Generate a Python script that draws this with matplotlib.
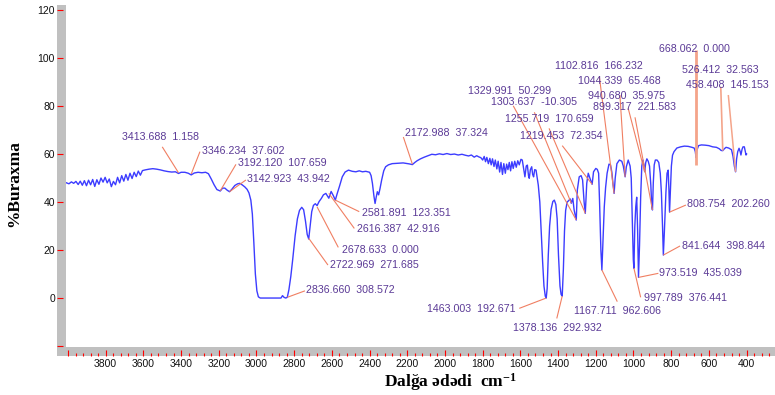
import matplotlib
matplotlib.use("Agg")
import matplotlib.pyplot as plt
from matplotlib.patches import Rectangle
from matplotlib.ticker import MultipleLocator

plt.rcParams['font.family'] = ['Liberation Sans', 'DejaVu Sans']
plt.rcParams['mathtext.fontset'] = 'custom'
plt.rcParams['mathtext.rm'] = 'Liberation Serif:bold'
plt.rcParams['mathtext.default'] = 'rm'

# IR spectrum (wavenumber cm-1, %T)
spec_wn = [4008, 3995, 3982, 3970, 3958, 3946, 3935, 3924, 3913, 3902, 3891, 3880, 3869, 3858,
           3847, 3836, 3825, 3814, 3803, 3792, 3781, 3770, 3759, 3748, 3737, 3726, 3715, 3704,
           3693, 3682, 3671, 3660, 3649, 3638, 3627, 3616, 3605, 3590, 3570, 3550, 3530, 3510,
           3490, 3470, 3450, 3430, 3413.688, 3400, 3380, 3362, 3346.234, 3330, 3310, 3290, 3270,
           3255, 3240, 3225, 3210, 3192.12, 3180, 3168, 3155, 3142.923, 3130, 3115, 3100, 3088,
           3075, 3062, 3050, 3040, 3030, 3022, 3014, 3006, 2998, 2990, 2980, 2870, 2862, 2854,
           2845, 2836.66, 2828, 2818, 2808, 2795, 2783, 2772, 2760, 2750, 2740, 2731, 2722.969,
           2715, 2707, 2698, 2688, 2678.633, 2668, 2656, 2645, 2632, 2616.387, 2604, 2592,
           2581.891, 2572, 2560, 2545, 2530, 2512, 2492, 2473, 2455, 2438, 2420, 2400, 2392,
           2385, 2377, 2371, 2365, 2359, 2352, 2345, 2336, 2325, 2315, 2300, 2280, 2260, 2240,
           2222, 2205, 2190, 2172.988, 2160, 2148, 2130, 2110, 2090, 2070, 2050, 2030, 2010,
           1990, 1970, 1950, 1930, 1910, 1892, 1875, 1860, 1845, 1832, 1820, 1810, 1800, 1792,
           1785, 1778, 1770, 1762, 1755, 1748, 1740, 1733, 1725, 1718, 1710, 1703, 1695, 1688,
           1680, 1673, 1666, 1659, 1652, 1645, 1638, 1630, 1622, 1614, 1606, 1597, 1590, 1582,
           1576, 1569, 1563, 1557, 1553, 1547, 1540, 1535, 1530, 1524, 1517, 1510, 1505, 1497,
           1490, 1482, 1475, 1468, 1463.003, 1458, 1452, 1445, 1437, 1428, 1420, 1412, 1405,
           1398, 1390, 1384, 1378.136, 1372, 1366, 1360, 1352, 1345, 1336, 1329.991, 1322, 1315,
           1303.637, 1298, 1288, 1278, 1270, 1262, 1255.719, 1248, 1240, 1231, 1219.453, 1212,
           1200, 1192, 1185, 1180, 1173, 1167.711, 1162, 1155, 1148, 1140, 1130, 1122, 1115,
           1108, 1102.816, 1097, 1088, 1075, 1062, 1054, 1044.339, 1038, 1028, 1018, 1012, 1006,
           1001, 997.789, 993, 988, 983, 978, 973.519, 968, 962, 956, 950, 944, 940.68, 935, 929,
           922, 915, 908, 903, 899.317, 895, 890, 884, 875, 866, 858, 852, 846, 841.644, 836,
           828, 822, 816, 812, 808.754, 804, 799, 793, 785, 770, 750, 730, 710, 690, 678, 672,
           668.062, 664, 655, 640, 620, 600, 580, 560, 545, 535, 526.412, 518, 509, 495, 480,
           472, 465, 458.408, 453, 447, 440, 434, 430, 424, 419, 412, 407, 403, 400]
spec_T = [48.0, 47.6, 48.4, 47.8, 48.6, 47.3, 48.7, 47.0, 48.9, 46.8, 49.1, 47.2, 49.4, 46.5,
          49.3, 47.4, 50.0, 48.3, 50.3, 48.0, 49.6, 46.4, 48.6, 47.2, 50.3, 48.0, 51.0, 48.7,
          51.5, 49.1, 52.0, 49.8, 52.4, 50.6, 52.9, 51.2, 53.1, 53.4, 53.7, 53.9, 53.7, 53.4,
          53.0, 52.7, 52.5, 52.6, 51.9, 52.4, 52.4, 52.0, 51.3, 52.1, 52.4, 52.2, 52.4,
          51.8, 49.6, 47.2, 45.2, 44.6, 45.8, 45.8, 44.9, 44.3, 45.4, 46.9, 47.6, 47.8,
          47.1, 46.3, 45.3, 43.8, 40.8, 35.0, 23.0, 10.0, 3.0, 0.5, 0.0, 0.0, 1.0, 0.3,
          0.0, 0.3, 3.5, 9.0, 16.0, 26.0, 33.0, 36.5, 37.8, 36.8, 32.0, 26.5, 24.6,
          30.5, 36.0, 38.6, 39.3, 38.5, 40.2, 41.5, 43.0, 43.6, 41.6, 44.4, 42.6,
          40.8, 43.5, 46.5, 50.5, 52.5, 53.3, 52.8, 52.6, 53.0, 52.6, 52.8, 52.4, 51.0,
          47.8, 42.5, 39.4, 42.0, 44.3, 43.0, 45.5, 49.2, 53.0, 54.7, 55.5, 56.0, 56.1, 56.2,
          56.3, 56.1, 55.9, 55.6, 56.5, 57.2, 58.0, 58.7, 59.3, 59.9, 59.7, 60.1, 59.8,
          60.2, 59.8, 60.0, 59.6, 59.9, 59.5, 59.2, 59.6, 58.7, 59.3, 58.8, 58.5, 57.5, 59.0,
          56.8, 58.6, 56.0, 58.2, 55.5, 58.0, 54.8, 57.5, 53.8, 57.0, 52.5, 56.5, 51.5, 56.0,
          52.0, 55.8, 53.5, 56.5, 53.0, 56.8, 54.0, 57.0, 54.5, 57.2, 55.5, 57.8, 57.5, 53.5,
          50.5, 55.0, 55.4, 51.0, 49.9, 53.5, 54.7, 51.5, 50.5, 53.5, 53.3, 49.5, 47.0, 40.0,
          28.0, 15.0, 5.0, 0.8, 0.0, 4.0, 18.0, 30.0, 37.0, 40.2, 40.8, 39.0, 33.0,
          18.0, 5.0, 1.5, 0.8, 12.0, 28.0, 36.5, 40.0, 40.5, 41.3, 39.5, 41.5, 36.7,
          32.5, 45.0, 50.5, 51.0, 49.2, 40.0, 35.3, 47.8, 52.0, 49.9, 47.4, 52.6,
          54.0, 53.6, 52.0, 40.0, 20.0, 11.7, 24.0, 38.0, 46.0, 52.0, 55.8, 55.5, 52.5,
          47.0, 43.6, 50.0, 56.0, 57.5, 57.0, 55.0, 50.5, 54.7, 57.5, 55.0, 50.0, 31.0,
          16.0, 12.4, 30.0, 38.0, 42.0, 28.0, 8.6, 22.0, 42.0, 55.0, 57.5, 55.0, 52.6, 56.5, 58.0,
          57.0, 55.0, 47.0, 38.0, 36.7, 48.0, 55.5, 57.5, 57.5, 56.5, 52.0, 44.0, 30.0, 17.9, 28.0,
          44.0, 52.0, 53.3, 45.0, 35.8, 45.0, 55.0, 59.5, 61.0, 62.5, 63.0, 63.3, 63.2, 62.8, 62.5, 61.0,
          58.5, 61.5, 63.5, 63.8, 63.7, 63.5, 63.0, 62.8, 62.2, 61.5, 61.4, 62.2, 62.8, 62.5, 61.8,
          59.0, 55.0, 52.6, 58.0, 61.0, 62.4, 61.0, 59.6, 62.0, 63.0, 63.0, 61.0, 59.6, 60.0]

# labelled peaks: wavenumber, second number printed, where the marker line meets the trace
peak_wn = [3413.688, 3346.234, 3192.120, 3142.923, 2836.660, 2722.969, 2678.633, 2616.387,
           2581.891, 2172.988, 1329.991, 1303.637, 1255.719, 1219.453, 1102.816, 1044.339,
           940.680, 899.317, 668.062, 526.412, 458.408, 808.754, 841.644, 973.519, 997.789,
           1167.711, 1463.003, 1378.136]
peak_int = [1.158, 37.602, 107.659, 43.942, 308.572, 271.685, 0.000, 42.916,
            123.351, 37.324, 50.299, -10.305, 170.659, 72.354, 166.232, 65.468,
            35.975, 221.583, 0.000, 32.563, 145.153, 202.260, 398.844, 435.039, 376.441,
            962.606, 192.671, 292.932]
peak_T = [52.2, 51.7, 44.7, 44.3, 0.3, 24.9, 38.0, 43.6,
          40.8, 55.8, 39.5, 32.5, 35.3, 47.4, 43.6, 50.5,
          52.6, 36.7, 55.4, 61.4, 52.6, 35.8, 17.9, 8.6, 12.4,
          11.7, 0.0, 0.8]

# layout of the labels (left edge / middle of text) and where each line starts
label_pos = [(3712, 67.2), (3291, 61.4), (3100, 56.1), (3049, 49.5), (2737, 3.3), (2610, 13.75),
             (2548, 20.0), (2465, 28.6), (2439, 35.5), (2212, 68.6), (1876, 86.4), (1756, 81.8),
             (1682, 74.6), (1602, 67.6), (1416, 96.7), (1296, 90.4), (1243, 84.2), (1216, 79.7),
             (863, 103.75), (744, 94.9), (721, 88.6), (715, 39.2), (744, 21.8), (863, 10.3),
             (944, 0.1), (1316, -5.3), (2094, -4.7), (1641, -12.4)]
line_start = [(3500, 63.0), (3300, 61.0), (3109, 55.7), (3056, 49.2), (2743, 3.0), (2621, 13.75),
              (2566, 21.1), (2481, 29.0), (2455, 36.0), (2221, 67.1), (1526, 77.4), (1638, 80.1),
              (1448, 70.7), (1378, 63.5), (1181, 92.2), (1072, 84.6), (1028, 79.0), (992, 75.3),
              (668.062, 103.3), (537, 88.0), (497, 84.6), (722, 38.75), (753, 21.7), (868, 10.3),
              (962, 0.3), (1086, -1.5), (1606, -4.3), (1407, -8.5)]
line_w = [0.8] * 18 + [2.0, 1.2, 1.1] + [0.8] * 7

fig = plt.figure(figsize=(7.75, 3.95), dpi=100)
ax = fig.add_axes([66 / 775, 1 - 347 / 395, 709 / 775, 342 / 395])

# grey frame bars on the left and at the bottom
fig.add_artist(Rectangle((57 / 775, 1 - 356 / 395), 9 / 775, 351 / 395,
                         transform=fig.transFigure, color='#c0c0c0', zorder=-1, lw=0))
fig.add_artist(Rectangle((57 / 775, 1 - 356 / 395), 718 / 775, 9 / 395,
                         transform=fig.transFigure, color='#c0c0c0', zorder=-1, lw=0))

ax.plot(spec_wn, spec_T, color='#3c3cff', lw=1.0, zorder=2)

for i in range(len(peak_wn)):
    lx, ly = label_pos[i]
    sx, sy = line_start[i]
    lc = '#f4a48a' if line_w[i] > 1 else '#f07f62'
    ax.plot([sx, peak_wn[i]], [sy, peak_T[i]], color=lc, lw=line_w[i], zorder=3,
            solid_capstyle='butt')
    ax.text(lx, ly, f"{peak_wn[i]:.3f}  {peak_int[i]:.3f}", ha='left', va='center',
            fontsize=7.7, color='#5b3a96', zorder=4)

ax.set_xlim(4010.6, 249.3)
ax.set_ylim(-20.4, 122.1)

xt = list(range(4000, 399, -200))
ax.set_xticks(xt)
ax.set_xticklabels(['' if v == 4000 else str(v) for v in xt])
ax.xaxis.set_minor_locator(MultipleLocator(40))
yt = list(range(-20, 121, 20))
ax.set_yticks(yt)
ax.set_yticklabels(['' if v == -20 else str(v) for v in yt])

for s in ['top', 'right']:
    ax.spines[s].set_visible(False)
ax.spines['bottom'].set_position(('outward', 6.48))
ax.spines['left'].set_position(('outward', 6.48))
ax.spines['bottom'].set_color('none')
ax.spines['left'].set_color('none')

ax.tick_params(axis='x', which='major', direction='in', length=4.3, width=0.8, color='red',
               labelsize=7.5, pad=2, labelcolor='#111111')
ax.tick_params(axis='x', which='minor', direction='in', length=2.5, width=0.8, color='red')
ax.tick_params(axis='y', which='major', direction='in', length=4.3, width=0.8, color='red',
               labelsize=7.5, pad=1.5, labelcolor='#111111')

fig.text(14 / 775, 1 - 184 / 395, '%Buraxma', rotation=90, ha='center', va='center',
         fontsize=12.5, fontweight='bold', family=['Liberation Serif', 'DejaVu Serif'])
fig.text(450 / 775, 1 - 382 / 395, 'Dalğa ədədi  cm$^{-1}$', ha='center', va='center',
         fontsize=12.5, fontweight='bold', family=['Liberation Serif', 'DejaVu Serif'])

fig.savefig('out.png', dpi=100)
